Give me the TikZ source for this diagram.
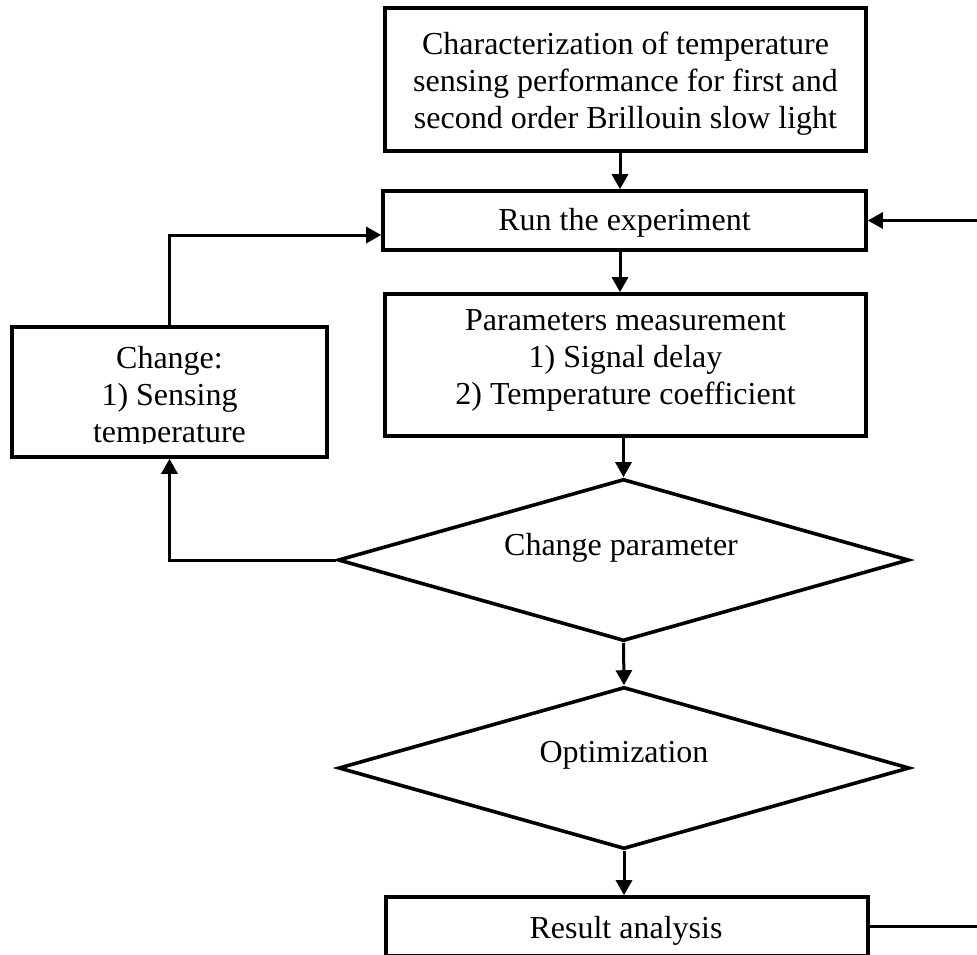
\documentclass[tikz,border=0pt]{standalone}
\usepackage{fontspec}
\setmainfont{Liberation Serif}
\usetikzlibrary{shapes.geometric,arrows.meta}
\begin{document}
\begin{tikzpicture}[x=1pt,y=-1pt,
  txt/.style={font=\fontsize{32}{37}\selectfont},
  box/.style={draw,line width=3.6pt,rectangle,inner sep=0pt},
  decision/.style={draw,line width=3.6pt,diamond,inner sep=0pt,
    minimum width=571pt,minimum height=162pt},
  lbl/.style={inner sep=0pt,align=center,txt},
  arr/.style={line width=3pt,-{Triangle[length=15pt,width=16pt]}}]
\useasboundingbox (0,0) rectangle (977,954);
\clip (0,0) rectangle (977,954);
\fill[white] (0,0) rectangle (977,954);

% main column
\node[box,minimum width=481pt,minimum height=143pt] (top) at (625.5,79.5) {};
\node[lbl] (toptext) at ([yshift=-4.5pt]top.center)
  {Characterization of temperature\\sensing performance for first and\\second order Brillouin slow light};
\node[box,minimum width=483pt,minimum height=59pt] (run) at (624.5,220.5) {};
\node[lbl] (runtext) at ([yshift=-2.5pt]run.center) {Run the experiment};
\node[box,minimum width=481pt,minimum height=142pt] (meas) at (625.5,365) {};
\node[lbl] (meastext) at ([yshift=5pt]meas.center)
  {Parameters measurement\\1) Signal delay\\2) Temperature coefficient};
\node[decision] (d1) at (623.5,560) {};
\node[lbl] (d1text) at (621,547.5) {Change parameter};
\node[decision] (d2) at (624,768) {};
\node[lbl] (d2text) at (624,755.5) {Optimization};
\node[box,minimum width=482pt,minimum height=59pt] (res) at (627,926.5) {};
\node[lbl] (restext) at (626,930.5) {Result analysis};

% side box, its text cut off by the inner margin
\node[box,minimum width=315pt,minimum height=130pt] (chg) at (169.5,392) {};
\begin{scope}
  \clip (12,327) rectangle (327,443.5);
  \node[lbl] (chgtext) at (169.5,397.5) {Change:\\1) Sensing\\temperature};
\end{scope}

% loop back point beyond the right border
\coordinate (loop) at (1020,0);

% connectors
\draw[arr] ([xshift=-5.5pt]top.south) -- ([xshift=-5.5pt]top.south |- run.north);
\draw[arr] ([xshift=-4.5pt]run.south) -- ([xshift=-4.5pt]run.south |- meas.north);
\draw[arr] (d1.north |- meas.south) -- (d1.north);
\draw[arr] (d1.south) -- (d2.north);
\draw[arr] (d2.south) -- (d2.south |- res.north);
\draw[arr] (d1.west) -| (chg.south);
\draw[arr] (chg.north) |- ([yshift=-14.5pt]run.west);
\draw[arr] (res.east) -- (res.east -| loop) -- (run.east -| loop) -- (run.east);
\end{tikzpicture}
\end{document}
